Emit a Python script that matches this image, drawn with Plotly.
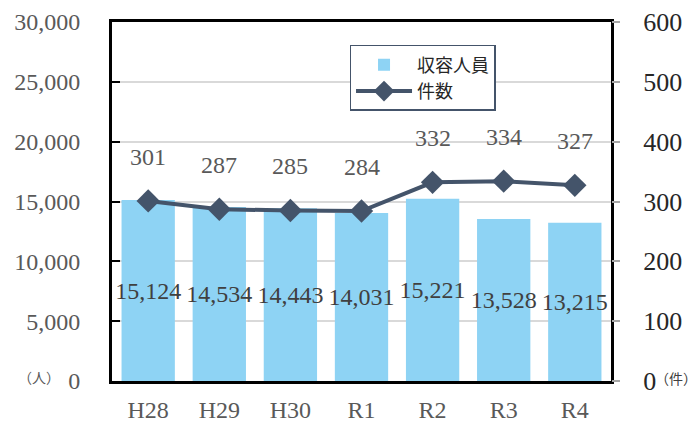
import plotly.graph_objects as go

categories = ["H28", "H29", "H30", "R1", "R2", "R3", "R4"]
inmates = [15124, 14534, 14443, 14031, 15221, 13528, 13215]
cases = [301, 287, 285, 284, 332, 334, 327]
left_ticks = [0, 5000, 10000, 15000, 20000, 25000, 30000]
right_ticks = [0, 100, 200, 300, 400, 500, 600]

SERIF = "Liberation Serif"
CJK = "Noto Sans CJK JP"

fig = go.Figure()
fig.add_trace(go.Bar(
    x=categories, y=inmates, name="収容人員",
    marker=dict(color="#8ED3F4", line=dict(width=0)),
    text=[f"{v:,}" for v in inmates], textposition="inside", textangle=0,
    insidetextanchor="middle", constraintext="none",
    textfont=dict(family=SERIF, size=24, color="#404040"),
    yaxis="y",
))
fig.add_trace(go.Scatter(
    x=categories, y=cases, name="件数", mode="lines+markers",
    line=dict(color="#44546A", width=4),
    marker=dict(symbol="diamond", size=18, color="#44546A"),
    yaxis="y2",
))

for c, v in zip(categories, cases):
    fig.add_annotation(x=c, y=v, xref="x", yref="y2", text=str(v),
                       showarrow=False, yshift=44,
                       font=dict(family=SERIF, size=24, color="#595959"))

fig.add_annotation(x=-0.146, y=0, xref="paper", yref="paper", text="（人）",
                   showarrow=False, xanchor="center", yanchor="middle", yshift=4,
                   font=dict(family=CJK, size=14, color="#595959"))
fig.add_annotation(x=1.0, y=0, xref="paper", yref="paper", text="（件）",
                   showarrow=False, xanchor="left", yanchor="middle", xshift=42, yshift=3,
                   font=dict(family=CJK, size=14, color="#404040"))

fig.update_layout(
    width=688, height=416,
    margin=dict(l=104, r=85, t=14, b=43, autoexpand=False),
    paper_bgcolor="white", plot_bgcolor="white",
    bargap=0.25,
    showlegend=True,
    legend=dict(x=0.476, y=0.936, xanchor="left", yanchor="top",
                bgcolor="white", bordercolor="#44546A", borderwidth=1.5,
                font=dict(family=CJK, size=18, color="#262626"),
                tracegroupgap=0, itemwidth=56),
    xaxis=dict(showline=True, linecolor="black", linewidth=3, mirror=True,
               automargin=False, ticklabelstandoff=5,
               tickfont=dict(family=SERIF, size=24, color="#595959"),
               ticks="", showgrid=False),
    yaxis=dict(range=[0, 30000], tickvals=left_ticks,
               ticktext=[f"{v:,}" for v in left_ticks],
               automargin=False,
               showline=True, linecolor="black", linewidth=3, mirror=True,
               ticks="inside", ticklen=8, tickcolor="black", tickwidth=2,
               gridcolor="#D9D9D9", gridwidth=1.5,
               ticklabelstandoff=24,
               tickfont=dict(family=SERIF, size=24, color="#595959")),
    yaxis2=dict(range=[0, 600], tickvals=right_ticks, overlaying="y", side="right",
                automargin=False,
                showline=False, showgrid=False, zeroline=False,
                ticks="outside", ticklen=8, tickcolor="#A6A6A6", tickwidth=1.5,
                ticklabelstandoff=18,
                tickfont=dict(family=SERIF, size=26, color="#262626")),
)

fig.write_html("out.html")
